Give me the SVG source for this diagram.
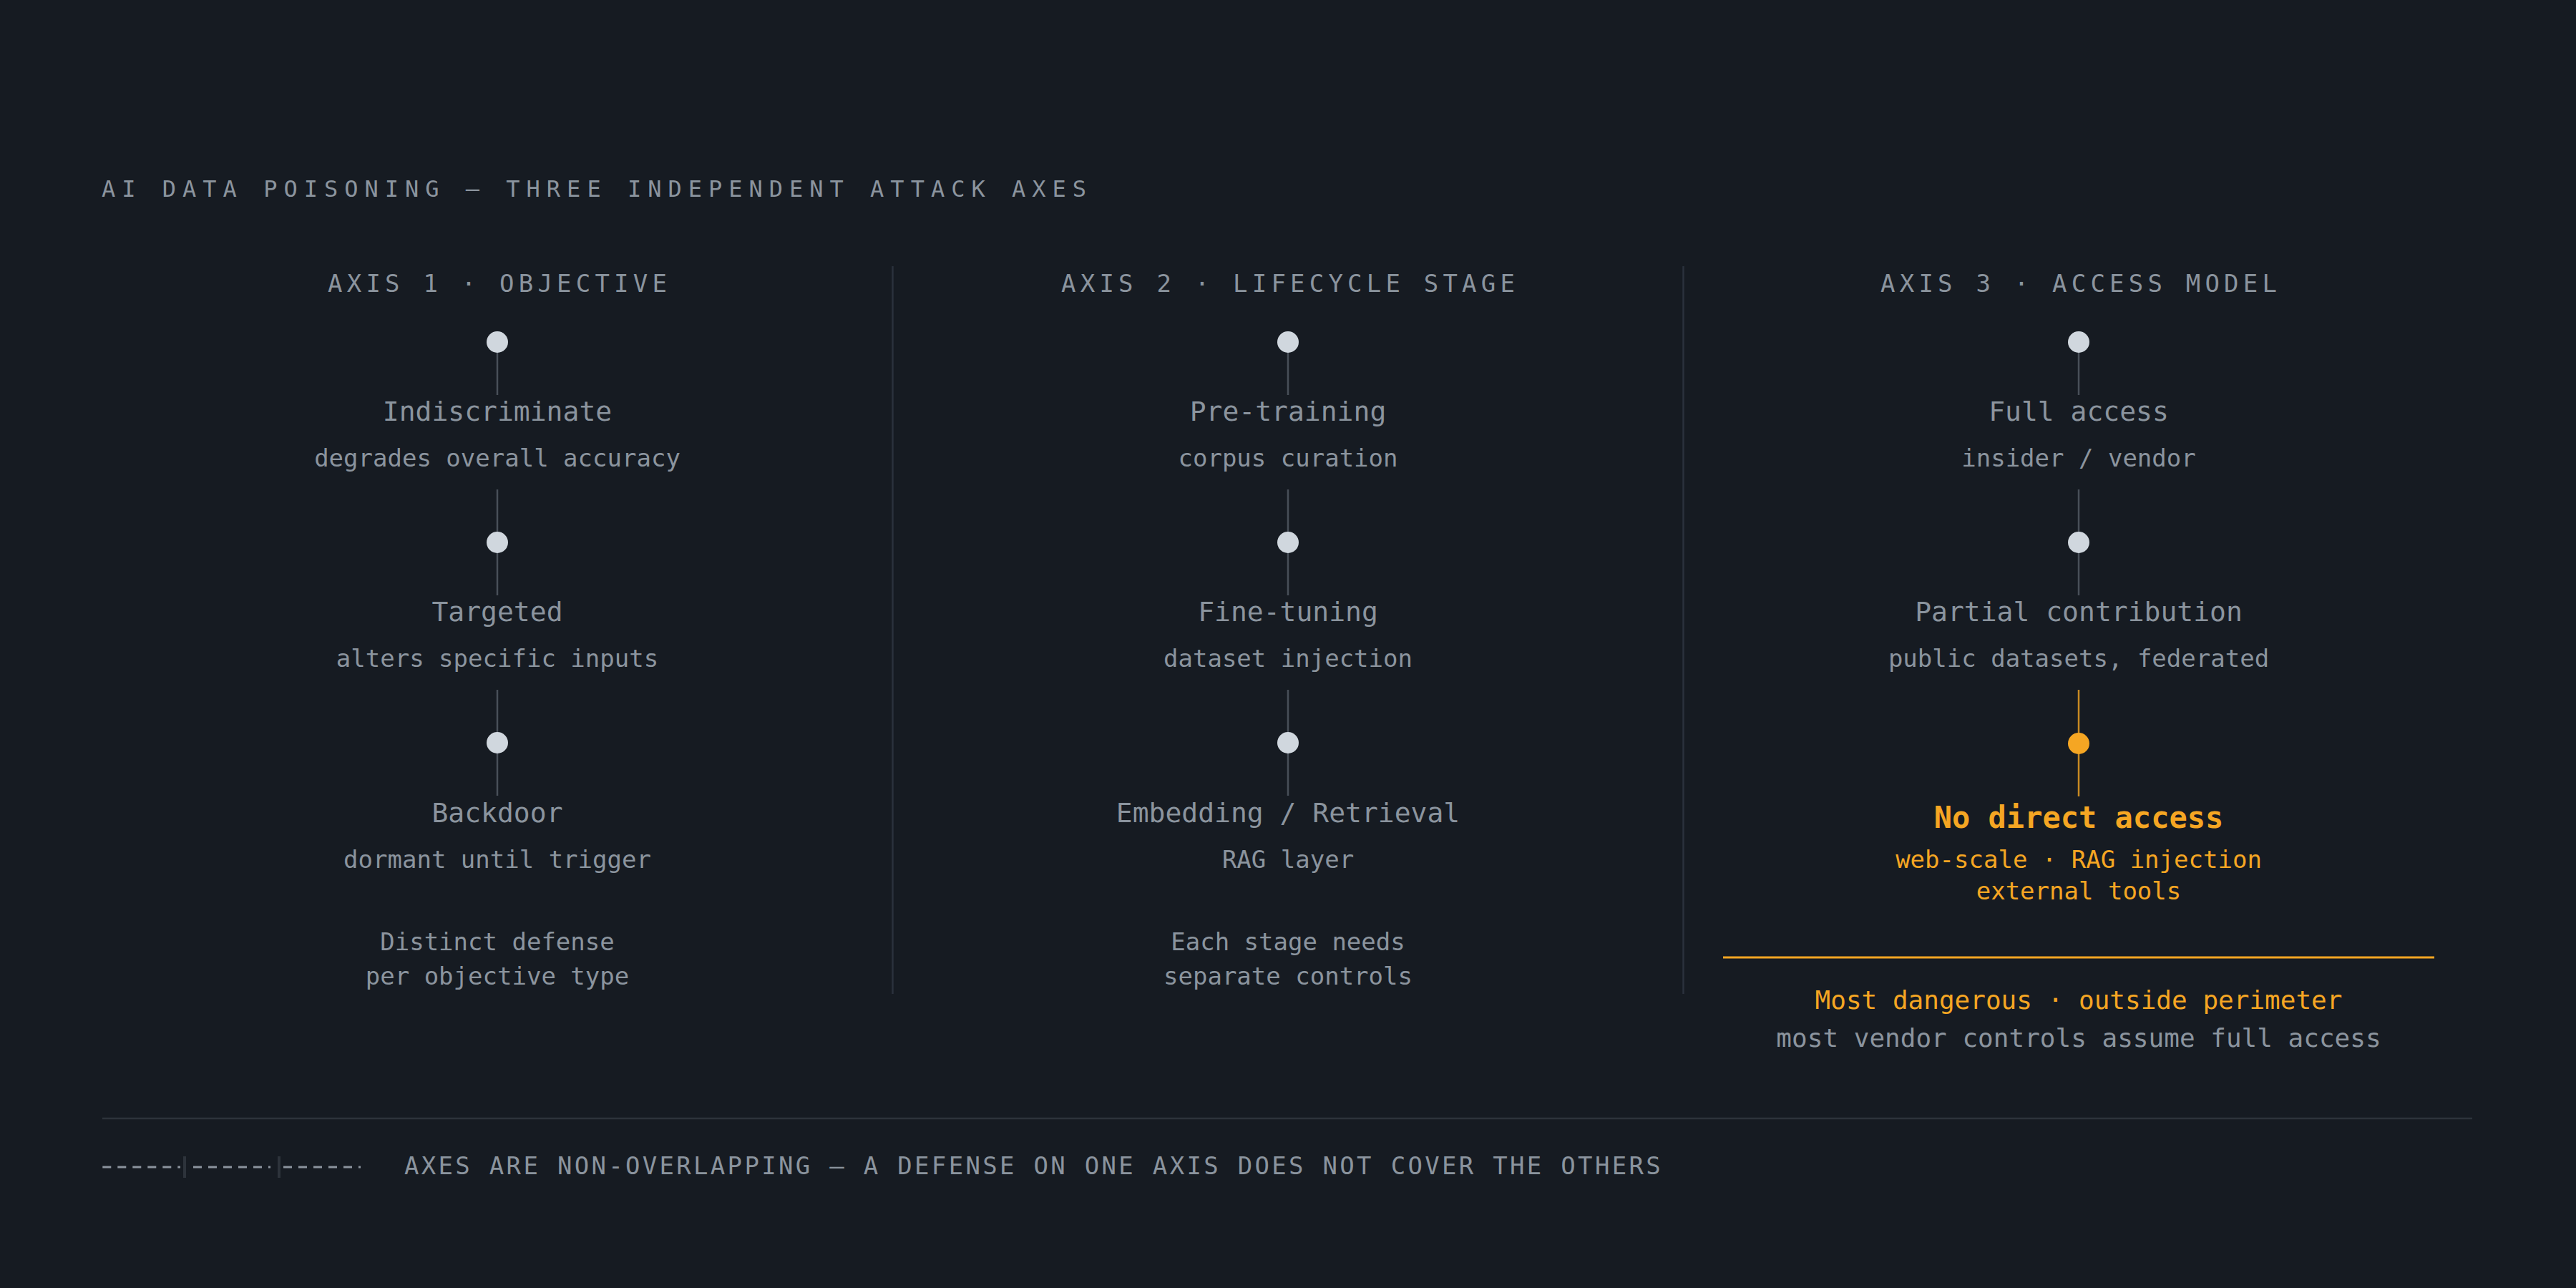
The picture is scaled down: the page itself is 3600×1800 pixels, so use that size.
<svg xmlns="http://www.w3.org/2000/svg" width="3600" height="1800" viewBox="0 0 3600 1800">
  <style>
    text { font-family: "DejaVu Sans Mono", "Liberation Mono", monospace; fill: #8b949e; }
    .title { font-size: 32px; letter-spacing: 9px; }
    .head { font-size: 34px; letter-spacing: 6.2px; text-anchor: middle; }
    .name { font-size: 38px; text-anchor: middle; }
    .sub { font-size: 34px; text-anchor: middle; }
    .note { font-size: 34px; text-anchor: middle; }
    .hot { fill: #f5a623; }
    .hotname { font-size: 42px; font-weight: bold; text-anchor: middle; fill: #f5a623; }
    .big { font-size: 36px; text-anchor: middle; }
    .foot { font-size: 34px; letter-spacing: 3.3px; }
    .dot { fill: #d0d7de; }
    .dothot { fill: #f5a623; }
    .link { stroke: #484f58; stroke-width: 2.5; fill: none; }
    .linkhot { stroke: #f5a623; stroke-opacity: 0.8; stroke-width: 2.5; fill: none; }
    .divider { stroke: #2a313c; stroke-width: 2.5; }
    .dash { stroke: #8b949e; stroke-width: 3; stroke-dasharray: 12 9; fill: none; }
    .tick { stroke: #2d333b; stroke-width: 4; }
  </style>
  <rect x="0" y="0" width="3600" height="1800" fill="#161b22"/>

  <text class="title" x="142" y="275">AI DATA POISONING — THREE INDEPENDENT ATTACK AXES</text>

  <g id="dividers">
    <line class="divider" x1="1247.5" y1="372" x2="1247.5" y2="1389"/>
    <line class="divider" x1="2352.5" y1="372" x2="2352.5" y2="1389"/>
  </g>

  <g id="connectors">
    <line class="link" x1="695" y1="478" x2="695" y2="552"/>
    <line class="link" x1="695" y1="684" x2="695" y2="832"/>
    <line class="link" x1="695" y1="964" x2="695" y2="1112"/>
    <line class="link" x1="1800" y1="478" x2="1800" y2="552"/>
    <line class="link" x1="1800" y1="684" x2="1800" y2="832"/>
    <line class="link" x1="1800" y1="964" x2="1800" y2="1112"/>
    <line class="link" x1="2905" y1="478" x2="2905" y2="552"/>
    <line class="link" x1="2905" y1="684" x2="2905" y2="832"/>
    <line class="linkhot" x1="2905" y1="964" x2="2905" y2="1113"/>
  </g>

  <!-- Axis 1 -->
  <g id="axis1-header"><text class="head" x="698.1" y="408">AXIS 1 · OBJECTIVE</text></g>
  <g id="axis1-indiscriminate">
    <circle class="dot" cx="695" cy="478" r="15"/>
    <text class="name" x="695" y="588">Indiscriminate</text>
    <text class="sub" x="695" y="652">degrades overall accuracy</text>
  </g>
  <g id="axis1-targeted">
    <circle class="dot" cx="695" cy="758" r="15"/>
    <text class="name" x="695" y="868">Targeted</text>
    <text class="sub" x="695" y="932">alters specific inputs</text>
  </g>
  <g id="axis1-backdoor">
    <circle class="dot" cx="695" cy="1038" r="15"/>
    <text class="name" x="695" y="1149">Backdoor</text>
    <text class="sub" x="695" y="1213">dormant until trigger</text>
  </g>
  <g id="axis1-note">
    <text class="note" x="695" y="1328">Distinct defense</text>
    <text class="note" x="695" y="1376">per objective type</text>
  </g>

  <!-- Axis 2 -->
  <g id="axis2-header"><text class="head" x="1803.1" y="408">AXIS 2 · LIFECYCLE STAGE</text></g>
  <g id="axis2-pretraining">
    <circle class="dot" cx="1800" cy="478" r="15"/>
    <text class="name" x="1800" y="588">Pre-training</text>
    <text class="sub" x="1800" y="652">corpus curation</text>
  </g>
  <g id="axis2-finetuning">
    <circle class="dot" cx="1800" cy="758" r="15"/>
    <text class="name" x="1800" y="868">Fine-tuning</text>
    <text class="sub" x="1800" y="932">dataset injection</text>
  </g>
  <g id="axis2-embedding">
    <circle class="dot" cx="1800" cy="1038" r="15"/>
    <text class="name" x="1800" y="1149">Embedding / Retrieval</text>
    <text class="sub" x="1800" y="1213">RAG layer</text>
  </g>
  <g id="axis2-note">
    <text class="note" x="1800" y="1328">Each stage needs</text>
    <text class="note" x="1800" y="1376">separate controls</text>
  </g>

  <!-- Axis 3 -->
  <g id="axis3-header"><text class="head" x="2908.1" y="408">AXIS 3 · ACCESS MODEL</text></g>
  <g id="axis3-full">
    <circle class="dot" cx="2905" cy="478" r="15"/>
    <text class="name" x="2905" y="588">Full access</text>
    <text class="sub" x="2905" y="652">insider / vendor</text>
  </g>
  <g id="axis3-partial">
    <circle class="dot" cx="2905" cy="758" r="15"/>
    <text class="name" x="2905" y="868">Partial contribution</text>
    <text class="sub" x="2905" y="932">public datasets, federated</text>
  </g>
  <g id="axis3-nodirect">
    <circle class="dothot" cx="2905" cy="1039" r="15"/>
    <text class="hotname" x="2905" y="1157">No direct access</text>
    <text class="sub hot" x="2905" y="1213">web-scale · RAG injection</text>
    <text class="sub hot" x="2905" y="1257">external tools</text>
  </g>
  <g id="axis3-note">
    <line x1="2408" y1="1338" x2="3402" y2="1338" stroke="#f5a623" stroke-width="3"/>
    <text class="big hot" x="2905" y="1410">Most dangerous · outside perimeter</text>
    <text class="big" x="2905" y="1463">most vendor controls assume full access</text>
  </g>

  <g id="footer">
    <line x1="143" y1="1563" x2="3455" y2="1563" stroke="#2d333b" stroke-width="2.5"/>
    <line class="dash" x1="143.3" y1="1631" x2="252" y2="1631"/>
    <line class="dash" x1="270" y1="1631" x2="378" y2="1631"/>
    <line class="dash" x1="396" y1="1631" x2="504" y2="1631"/>
    <line class="tick" x1="258" y1="1616" x2="258" y2="1646"/>
    <line class="tick" x1="390" y1="1616" x2="390" y2="1646"/>
    <text class="foot" x="565" y="1641">AXES ARE NON-OVERLAPPING — A DEFENSE ON ONE AXIS DOES NOT COVER THE OTHERS</text>
  </g>
</svg>
